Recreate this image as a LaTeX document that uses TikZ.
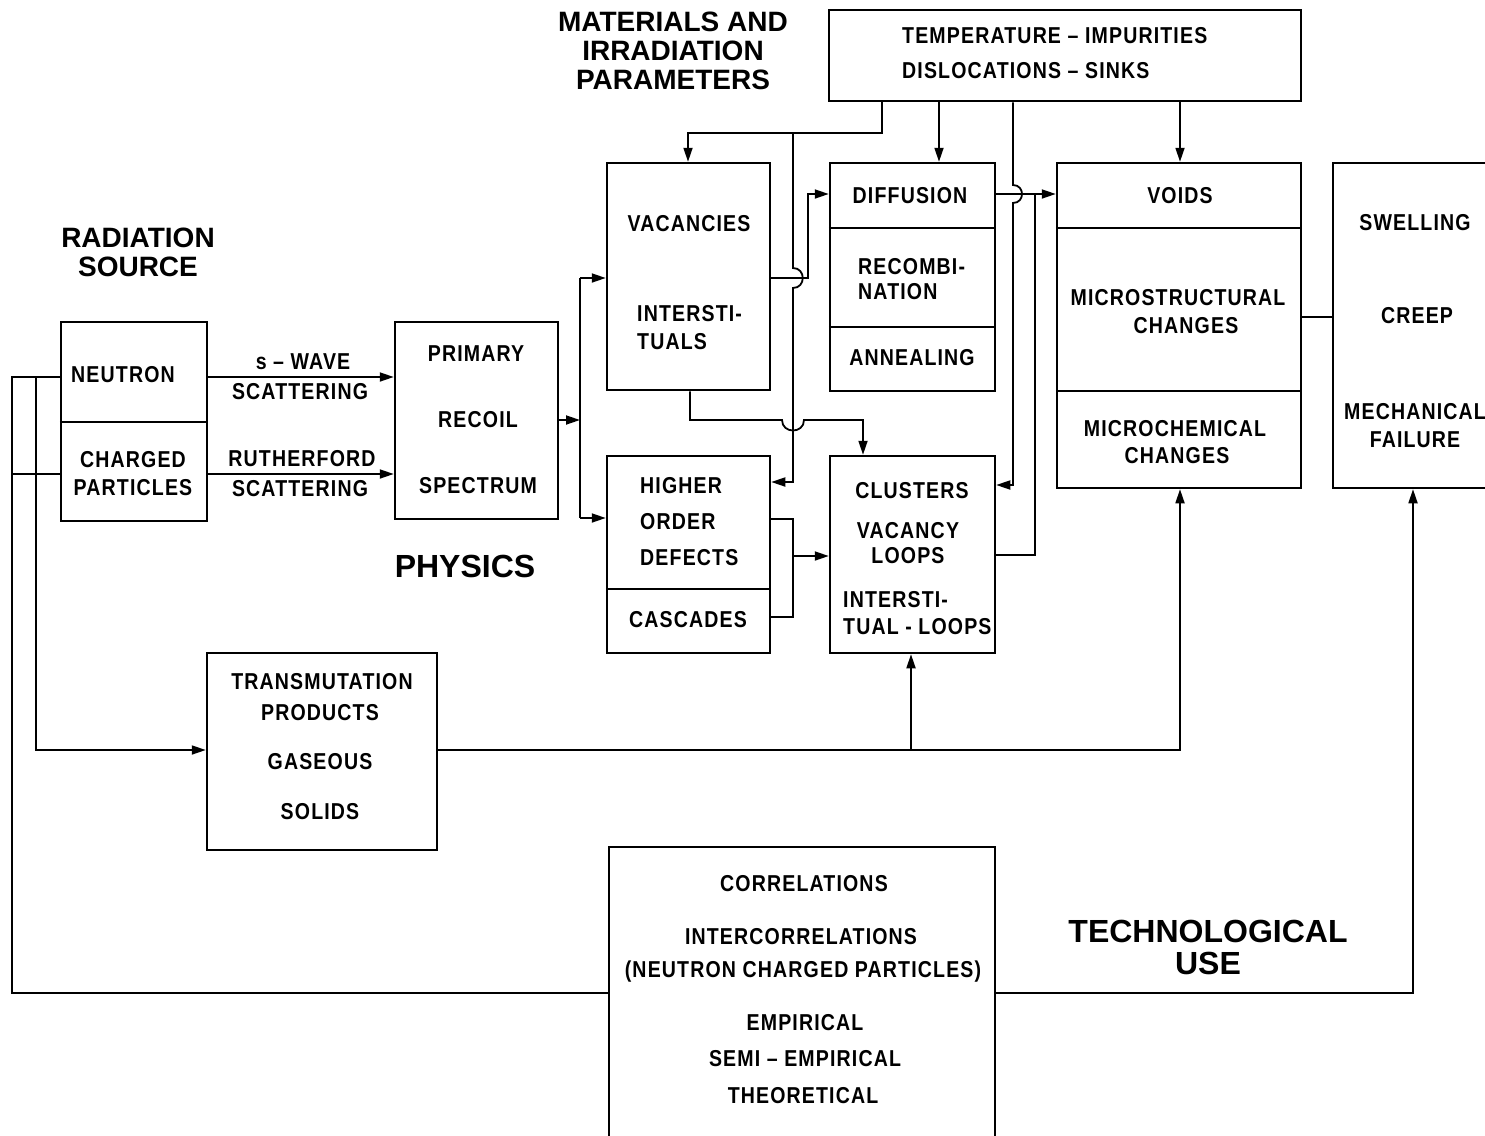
\documentclass[tikz,border=0pt]{standalone}
\usepackage{fontspec}
\setmainfont{Liberation Sans}
\newfontfamily\bx[FakeStretch=0.85,LetterSpace=5]{Liberation Sans}
\newcommand\bxs[1]{\bx\bfseries\fontsize{23}{#1}\selectfont}
\usetikzlibrary{arrows.meta}
\tikzset{
  box/.style={draw, line width=2.5pt, inner sep=0pt},
  div/.style={line width=2pt},
  lbl/.style={font={\bxs{28}}, inner sep=0pt},
  head/.style={font=\bfseries\fontsize{28}{29}\selectfont, inner sep=0pt, align=center},
  bighead/.style={font=\bfseries\fontsize{32}{32}\selectfont, inner sep=0pt, align=center},
  wire/.style={line width=1.8pt},
  arr/.style={wire, -{Triangle[length=14pt,width=9pt]}},
}
\begin{document}
\begin{tikzpicture}[x=1pt,y=-1pt]
\useasboundingbox (0,0) rectangle (1485,1135);
\clip (0,0) rectangle (1485,1135);

% ---------- boxes ----------
\node[box, minimum width=472pt, minimum height=91pt] (temp) at (1065,55.5) {};
\node[box, minimum width=146pt, minimum height=199pt] (src) at (134,421.5) {};
\node[box, minimum width=163pt, minimum height=197pt] (prim) at (476.5,420.5) {};
\node[box, minimum width=163pt, minimum height=227pt] (vac) at (688.5,276.5) {};
\node[box, minimum width=165pt, minimum height=228pt] (diff) at (912.5,277) {};
\node[box, minimum width=244pt, minimum height=325pt] (voids) at (1179,325.5) {};
\node[box, minimum width=167pt, minimum height=325pt] (swell) at (1416.5,325.5) {};
\node[box, minimum width=163pt, minimum height=197pt] (hod) at (688.5,554.5) {};
\node[box, minimum width=165pt, minimum height=197pt] (clus) at (912.5,554.5) {};
\node[box, minimum width=230pt, minimum height=197pt] (trans) at (322,751.5) {};
\node[box, minimum width=386pt, minimum height=313pt] (corr) at (802,1003.5) {};

% dividers
\draw[div] (src.west |- 0,422) -- (src.east |- 0,422);
\draw[div] (diff.west |- 0,228) -- (diff.east |- 0,228);
\draw[div] (diff.west |- 0,327) -- (diff.east |- 0,327);
\draw[div] (voids.west |- 0,228) -- (voids.east |- 0,228);
\draw[div] (voids.west |- 0,391) -- (voids.east |- 0,391);
\draw[div] (hod.west |- 0,589) -- (hod.east |- 0,589);

% ---------- headings ----------
\node[head] (hmat) at (673,51) {MATERIALS AND\\IRRADIATION\\PARAMETERS};
\node[head] (hrad) at (138,252.5) {RADIATION\\SOURCE};
\node[bighead] (hphy) at (465,566) {PHYSICS};
\node[bighead] (htech) at (1208,947) {TECHNOLOGICAL\\USE};

% ---------- box texts ----------
\node[lbl, anchor=west] (t1) at (902,36) {TEMPERATURE – IMPURITIES};
\node[lbl, anchor=west] (t2) at (902,71) {DISLOCATIONS – SINKS};

\node[lbl] (s1) at (123,375) {NEUTRON};
\node[lbl, align=center] (s2) at (133,473.5) {CHARGED\\PARTICLES};

\node[lbl] (w1) at (303,362) {s – WAVE};
\node[lbl] (w2) at (300,392) {SCATTERING};
\node[lbl] (w3) at (302,459) {RUTHERFORD};
\node[lbl] (w4) at (300,489) {SCATTERING};

\node[lbl] (p1) at (476,354) {PRIMARY};
\node[lbl] (p2) at (478,420) {RECOIL};
\node[lbl] (p3) at (478,486) {SPECTRUM};

\node[lbl] (v1) at (689,224) {VACANCIES};
\node[lbl, anchor=west, align=left] (v2) at (637,328) {INTERSTI-\\TUALS};

\node[lbl] (d1) at (910,196) {DIFFUSION};
\node[lbl, anchor=west, align=left, font={\bxs{25}}] (d2) at (858,279.5) {RECOMBI-\\NATION};
\node[lbl] (d3) at (912,358) {ANNEALING};

\node[lbl] (o1) at (1180,196) {VOIDS};
\node[lbl] (o2) at (1178,298) {MICROSTRUCTURAL};
\node[lbl] (o3) at (1186,326) {CHANGES};
\node[lbl] (o4) at (1175,429) {MICROCHEMICAL};
\node[lbl] (o5) at (1177,456) {CHANGES};

\node[lbl] (e1) at (1415,223) {SWELLING};
\node[lbl] (e2) at (1417,316) {CREEP};
\node[lbl, align=center] (e3) at (1415,426) {MECHANICAL\\FAILURE};

\node[lbl, anchor=west, align=left, font={\bxs{36}}] (h1) at (640,522) {HIGHER\\ORDER\\DEFECTS};
\node[lbl] (h2) at (688,620) {CASCADES};

\node[lbl] (c1) at (912,491) {CLUSTERS};
\node[lbl, align=center, font={\bxs{25}}] (c2) at (908,543.5) {VACANCY\\LOOPS};
\node[lbl, anchor=west, align=left, font={\bxs{27}}] (c3) at (843,613.5) {INTERSTI-\\TUAL - LOOPS};

\node[lbl] (r1) at (322,682) {TRANSMUTATION};
\node[lbl] (r2) at (320,713) {PRODUCTS};
\node[lbl] (r3) at (320,762) {GASEOUS};
\node[lbl] (r4) at (320,812) {SOLIDS};

\node[lbl] (k1) at (804,884) {CORRELATIONS};
\node[lbl] (k2) at (801,937) {INTERCORRELATIONS};
\node[lbl] (k3) at (803,972) {(NEUTRON CHARGED PARTICLES)};
\node[lbl] (k4) at (805,1023) {EMPIRICAL};
\node[lbl] (k5) at (805,1059) {SEMI – EMPIRICAL};
\node[lbl] (k6) at (803,1096) {THEORETICAL};

% ---------- connectors ----------
% source to primary recoil
\draw[arr] (src.east |- 0,377) -- (prim.west |- 0,377);
\draw[arr] (src.east |- 0,474) -- (prim.west |- 0,474);
\coordinate (j1) at (580,420);
\draw[arr] (prim.east |- j1) -- (j1);
\draw[wire] (580,278) -- (580,518);
\draw[arr] (580,278) -- (vac.west |- 0,278);
\draw[arr] (580,518) -- (hod.west |- 0,518);

% parameters to vacancies, and branch to higher order defects
\draw[arr] (temp.south -| 882,0) -- (882,133) -- (688,133) -- (vac.north -| 688,0);
\draw[arr] (793,133) -- (793,268) .. controls (806,268) and (806,288) .. (793,288) -- (793,482) -- (hod.east |- 0,482);

% vacancies to diffusion
\draw[arr] (vac.east |- 0,278) -- (808,278) -- (808,194) -- (diff.west |- 0,194);

% interstitials to clusters
\draw[arr] (vac.south -| 690,0) -- (690,420) -- (782,420) .. controls (782,434) and (804,434) .. (804,420) -- (863,420) -- (clus.north -| 863,0);

% parameters down
\draw[arr] (temp.south -| 939,0) -- (diff.north -| 939,0);
\draw[arr] (temp.south -| 1180,0) -- (voids.north -| 1180,0);
\draw[arr] (temp.south -| 1013,0) -- (1013,185) .. controls (1025,185) and (1025,203) .. (1013,203) -- (1013,485) -- (clus.east |- 0,485);

% diffusion and clusters to voids
\draw[arr] (diff.east |- 0,194) -- (voids.west |- 0,194);
\draw[wire] (clus.east |- 0,555) -- (1035,555) -- (1035,194);

% higher order defects / cascades to clusters
\draw[wire] (hod.east |- 0,519) -- (793,519) -- (793,617) -- (hod.east |- 0,617);
\draw[arr] (793,556) -- (clus.west |- 0,556);

% voids to swelling
\draw[wire] (voids.east |- 0,317) -- (swell.west |- 0,317);

% left feedback lines
\draw[wire] (src.west |- 0,377) -- (12,377) -- (12,993) -- (corr.west |- 0,993);
\draw[wire] (src.west |- 0,474) -- (12,474);
\draw[arr] (36,377) -- (36,750) -- (trans.west |- 0,750);

% transmutation products
\draw[arr] (trans.east |- 0,750) -- (1180,750) -- (voids.south -| 1180,0);
\draw[arr] (911,750) -- (clus.south -| 911,0);

% correlations to technological use
\draw[arr] (corr.east |- 0,993) -- (1413,993) -- (swell.south -| 1413,0);
\end{tikzpicture}
\end{document}
